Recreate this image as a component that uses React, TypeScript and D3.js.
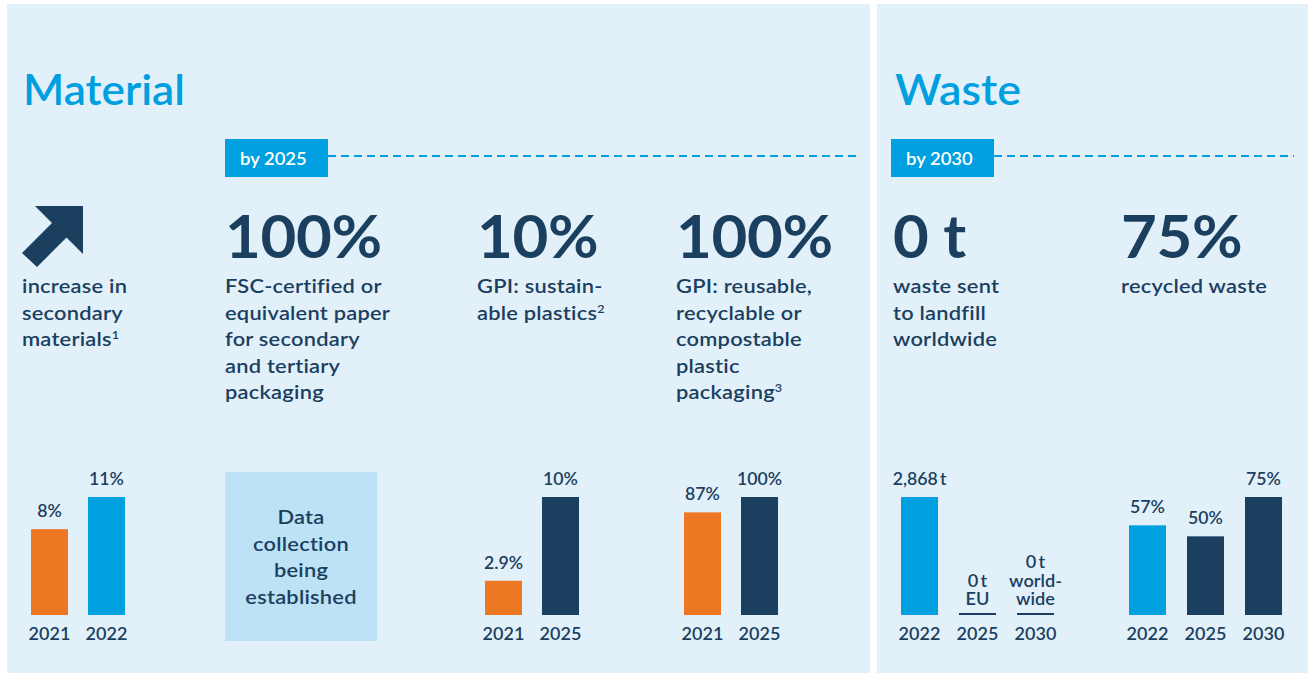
import React from "react";
import * as d3 from "d3";

// ---------- data ----------
const secondaryYears = ["2021", "2022"];
const secondaryValues = [8, 11];

const sustainableYears = ["2021", "2025"];
const sustainableValues = [2.9, 10];

const reusableYears = ["2021", "2025"];
const reusableValues = [87, 100];

const landfillYears = ["2022", "2025", "2030"];
const landfillValues = [2868, 0, 0];
const landfillZeroNotes = [[], ["0\u2009t", "EU"], ["0\u2009t", "world-", "wide"]];

const recycledYears = ["2022", "2025", "2030"];
const recycledValues = [57, 50, 75];

const headlines = ["100%", "10%", "100%", "0 t", "75%"];
const descSecondary = ["increase in", "secondary", "materials"];
const descFsc = ["FSC-certified or", "equivalent paper", "for secondary", "and tertiary", "packaging"];
const descSustainable = ["GPI: sustain-", "able plastics"];
const descReusable = ["GPI: reusable,", "recyclable or", "compostable", "plastic", "packaging"];
const descLandfill = ["waste sent", "to landfill", "worldwide"];
const descRecycled = ["recycled waste"];
const dataPending = ["Data", "collection", "being", "established"];

// ---------- styles ----------
const NAVY = "#1b3f5f";
const ORANGE = "#ee7724";
const CYAN = "#009fdf";
const PANEL = "#e2f0fa";
const BOX = "#bde2f5";
const FONT = "Lato, 'Noto Sans', sans-serif";

const W = 1308;
const H = 673;
const BASE = 615;
const TOP = 497;
const TXT_SX = 1.15;

const pctFmt = (v: number) => `${v}%`;
const tFmt = (v: number) => `${d3.format(",")(v)}\u2009t`;

type STextProps = {
  x: number;
  y: number;
  sx?: number;
  size: number;
  weight?: number;
  fill?: string;
  anchor?: "start" | "middle" | "end";
  ls?: number;
  children: React.ReactNode;
};

function SText({ x, y, sx = 1, size, weight = 600, fill = NAVY, anchor = "start", ls = 0, children }: STextProps) {
  return (
    <text
      transform={`translate(${x},${y}) scale(${sx},1)`}
      fontSize={size}
      fontWeight={weight}
      fill={fill}
      textAnchor={anchor}
      letterSpacing={ls}
    >
      {children}
    </text>
  );
}

type BarGroupProps = {
  years: string[];
  values: number[];
  colors: string[];
  x0: number;
  x1: number;
  fmt: (v: number) => string;
  zeroNotes?: string[][];
};

function BarGroup({ years, values, colors, x0, x1, fmt, zeroNotes }: BarGroupProps) {
  const n = years.length;
  const x = d3
    .scaleBand<string>()
    .domain(years)
    .range([x0, x1])
    .paddingInner(n === 2 ? 20 / 57 : 21 / 58)
    .paddingOuter(0);
  const y = d3.scaleLinear().domain([0, d3.max(values) as number]).range([BASE, TOP]);
  const bw = x.bandwidth();
  return (
    <g>
      {years.map((yr, i) => {
        const v = values[i];
        const bx = x(yr) as number;
        const cx = bx + bw / 2;
        const yearLabel = (
          <SText x={cx} y={640} size={17.5} anchor="middle" sx={1.03}>
            {yr}
          </SText>
        );
        if (v === 0) {
          const notes = zeroNotes ? zeroNotes[i] : [];
          return (
            <g key={yr}>
              <rect x={bx} y={BASE - 2} width={bw} height={2} fill={NAVY} />
              {notes.map((t, j) => (
                <SText key={j} x={cx} y={BASE - 10 - (notes.length - 1 - j) * 18.5} size={17} anchor="middle" sx={1.07}>
                  {t}
                </SText>
              ))}
              {yearLabel}
            </g>
          );
        }
        return (
          <g key={yr}>
            <rect x={bx} y={y(v)} width={bw} height={BASE - y(v)} fill={colors[i]} />
            <SText x={cx} y={y(v) - 12} size={17} anchor="middle" sx={1.04}>
              {fmt(v)}
            </SText>
            {yearLabel}
          </g>
        );
      })}
    </g>
  );
}

function Desc({ x, lines, sup }: { x: number; lines: string[]; sup?: string }) {
  return (
    <g>
      {lines.map((t, i) => (
        <SText key={i} x={x} y={293 + i * 26.5} size={19} sx={TXT_SX} ls={0.2}>
          {t}
          {sup && i === lines.length - 1 ? (
            <tspan fontSize={11} dy={-7}>
              {sup}
            </tspan>
          ) : null}
        </SText>
      ))}
    </g>
  );
}

function Headline({ x, text }: { x: number; text: string }) {
  return (
    <SText x={x} y={258} size={60} sx={1.03} ls={-0.3} weight={700}>
      {text}
    </SText>
  );
}

function Tag({ x, w, label, lineEnd }: { x: number; w: number; label: string; lineEnd: number }) {
  return (
    <g>
      <rect x={x} y={139} width={w} height={38} fill={CYAN} />
      <SText x={x + 15} y={165} size={16.5} sx={1.12} fill="#fff">
        {label}
      </SText>
      <line x1={x + w} x2={lineEnd} y1={156} y2={156} stroke={CYAN} strokeWidth={2} strokeDasharray="8 5" />
    </g>
  );
}

export default function App() {
  return (
    <svg width={W} height={H} style={{ position: "absolute", left: 0, top: 0, fontFamily: FONT }}>
      <rect x={0} y={0} width={W} height={H} fill="#fff" />
      <rect x={7} y={4} width={863} height={H - 4} fill={PANEL} />
      <rect x={877} y={4} width={W - 877} height={H - 4} fill={PANEL} />

      {/* titles */}
      <SText x={23} y={105} size={42} sx={1.05} fill={CYAN}>
        Material
      </SText>
      <SText x={895} y={105} size={42} sx={1.065} fill={CYAN}>
        Waste
      </SText>

      <Tag x={225} w={103} label="by 2025" lineEnd={856} />
      <Tag x={891} w={103} label="by 2030" lineEnd={1294} />

      {/* arrow */}
      <polygon points="35,206 83,206 83,254 66.5,237.5 37,267 22,253 52,223" fill={NAVY} />

      <Headline x={225} text={headlines[0]} />
      <Headline x={477} text={headlines[1]} />
      <Headline x={676} text={headlines[2]} />
      <Headline x={893} text={headlines[3]} />
      <Headline x={1121} text={headlines[4]} />

      <Desc x={22} lines={descSecondary} sup="1" />
      <Desc x={225} lines={descFsc} />
      <Desc x={477} lines={descSustainable} sup="2" />
      <Desc x={676} lines={descReusable} sup="3" />
      <Desc x={893} lines={descLandfill} />
      <Desc x={1121} lines={descRecycled} />

      {/* data pending box */}
      <rect x={225} y={472} width={152} height={169} fill={BOX} />
      {dataPending.map((t, i) => (
        <SText key={i} x={301} y={524 + i * 26.7} size={19} sx={TXT_SX} ls={0.2} anchor="middle">
          {t}
        </SText>
      ))}

      <BarGroup years={secondaryYears} values={secondaryValues} colors={[ORANGE, CYAN]} x0={31} x1={125} fmt={pctFmt} />
      <BarGroup years={sustainableYears} values={sustainableValues} colors={[ORANGE, NAVY]} x0={485} x1={579} fmt={pctFmt} />
      <BarGroup years={reusableYears} values={reusableValues} colors={[ORANGE, NAVY]} x0={684} x1={778} fmt={pctFmt} />
      <BarGroup
        years={landfillYears}
        values={landfillValues}
        colors={[CYAN, NAVY, NAVY]}
        x0={901}
        x1={1054}
        fmt={tFmt}
        zeroNotes={landfillZeroNotes}
      />
      <BarGroup years={recycledYears} values={recycledValues} colors={[CYAN, NAVY, NAVY]} x0={1129} x1={1282} fmt={pctFmt} />
    </svg>
  );
}
